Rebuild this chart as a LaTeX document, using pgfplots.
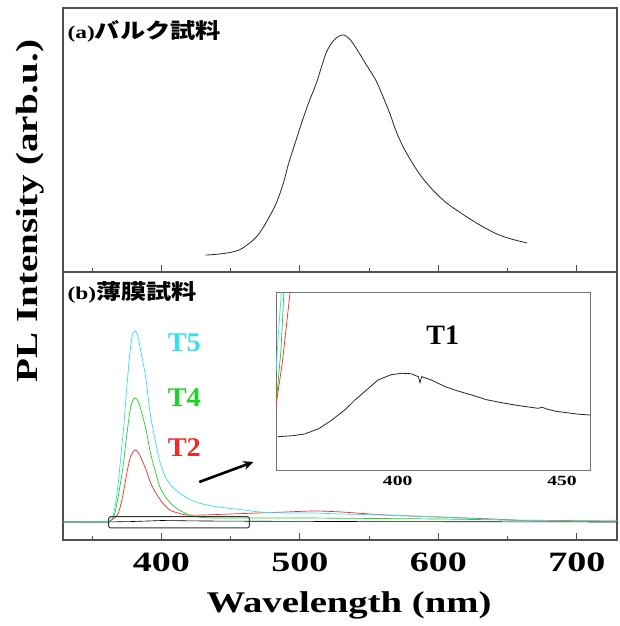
\documentclass[border=0pt]{standalone}
\usepackage{fontspec}
\setmainfont{Liberation Serif}
\newfontfamily\cjk{Noto Sans CJK JP}
\usepackage{pgfplots}
\usetikzlibrary{arrows.meta}
\pgfplotsset{compat=1.18}
\definecolor{cTfive}{RGB}{50,225,235}
\definecolor{cTfour}{RGB}{30,210,40}
\definecolor{cTtwo}{RGB}{245,40,40}
\definecolor{frm}{RGB}{80,80,80}
\newcommand\tl[1]{\scalebox{1.36}[1]{\bfseries\fontsize{28}{28}\selectfont #1}}
\newcommand\itl[1]{\scalebox{1.4}[1]{\bfseries\fontsize{14}{14}\selectfont #1}}
\begin{document}
\begin{tikzpicture}
\useasboundingbox (0pt,0pt) rectangle (619pt,626pt);
% ---------- top panel (a)
\begin{axis}[at={(63pt,354pt)}, anchor=south west, scale only axis,
  width=554pt, height=264pt, xmin=329, xmax=729, ymin=0, ymax=1,
  xtick={400,500,600,700}, minor xtick={350,450,550,650}, xticklabels={},
  ytick=\empty, xtick pos=lower, major tick length=7pt, minor tick length=4pt,
  axis line style={frm, line width=1.3pt}, tick style={frm, line width=1pt}]
\addplot[black!85, line width=0.8pt, smooth, tension=0.5] coordinates {
(432,0.064)(445,0.070)(456,0.083)(465,0.115)(471,0.148)(477,0.200)(483,0.261)
(488,0.335)(492,0.413)(497,0.495)(502,0.576)(507,0.650)(512,0.716)(519,0.830)
(525,0.880)(531,0.898)(536,0.882)(541,0.845)(548,0.785)(555,0.725)(560,0.665)
(565,0.600)(569,0.540)(574,0.480)(581,0.415)(588,0.360)(597,0.305)(606,0.261)
(615,0.228)(624,0.197)(634,0.166)(644,0.140)(654,0.123)(664,0.110)};
\node[anchor=west, inner sep=0pt] at (rel axis cs:0.008,0.913)
  {\scalebox{1.3}[1]{\bfseries\fontsize{18}{18}\selectfont (a)}\scalebox{1.2}[1]{\cjk\bfseries\fontsize{21}{21}\selectfont バルク試料}};
\end{axis}
% ---------- bottom panel (b)
\begin{axis}[at={(63pt,86pt)}, anchor=south west, scale only axis,
  width=554pt, height=268pt, xmin=329, xmax=729, ymin=-18, ymax=250,
  xtick={400,500,600,700}, minor xtick={350,450,550,650},
  xticklabels={\tl{400},\tl{500},\tl{600},\tl{700}},
  xticklabel style={inner sep=0pt, yshift=-13pt},
  ytick=\empty, xtick pos=lower, major tick length=7pt, minor tick length=4pt,
  axis line style={frm, line width=1.3pt}, tick style={frm, line width=1pt}]
\addplot[black, line width=0.6pt] coordinates {
(329,0)(360,0)(380,0.5)(400,1.5)(430,1)(460,0.8)(520,0.5)(729,0)};
\addplot[cTtwo, line width=0.7pt, smooth] coordinates {
(329,0)(360,0)(364,2)(367,5)(369,9)(372,25)(375.5,52)(378,66)(381,72)(384,68)
(389,52)(392,40)(396,29)(401,19)(406,12)(412,9)(418,7)(430,7)(450,8)(470,9)
(490,10)(510,11)(530,10)(562,7)(600,5)(639,3)(670,1)(729,0.5)};
\addplot[cTfour, line width=0.7pt, smooth] coordinates {
(329,0)(358,0)(363,1)(366,7)(368,19)(370,35)(372,52)(375.5,92)(378,116)(381,124)
(384,118)(389,92)(392,70)(396,49)(399,35)(403,25)(408,17)(413,12)(420,7)(427,5)
(440,4)(500,4)(600,3)(650,2)(729,1)};
\addplot[cTfive, line width=0.7pt, smooth] coordinates {
(329,0)(355,0)(362,1)(365,5)(367,19)(369,40)(371,69)(373,98)(374.5,125)(377,165)
(379,186)(381,191)(383,186)(386,165)(389,142)(392,108)(396,79)(399,60)(403,45)
(408,35)(413,29)(420,23)(427,19)(437,16)(447,14)(460,12)(471,10)(490,9)(510,9)
(530,8)(560,7)(600,5)(650,2)(700,1)(729,1)};
\draw[black!80, line width=1pt, rounded corners=2pt] (axis cs:362,-6) rectangle (axis cs:463.5,5.3);
\draw[-{Stealth[length=10pt,width=9pt]}, line width=2.6pt] (axis cs:427.4,40) -- (axis cs:466.4,60);
\node[cTfive] at (axis cs:416.6,179) {\scalebox{1.05}[1]{\bfseries\fontsize{27}{27}\selectfont T5}};
\node[cTfour] at (axis cs:416.6,124) {\scalebox{1.05}[1]{\bfseries\fontsize{27}{27}\selectfont T4}};
\node[cTtwo] at (axis cs:416.6,74) {\scalebox{1.05}[1]{\bfseries\fontsize{27}{27}\selectfont T2}};
\node[anchor=west, inner sep=0pt] at (rel axis cs:0.008,0.925)
  {\scalebox{1.3}[1]{\bfseries\fontsize{18}{18}\selectfont (b)}\scalebox{1.2}[1]{\cjk\bfseries\fontsize{21}{21}\selectfont 薄膜試料}};
\end{axis}
% ---------- inset
\begin{axis}[at={(276pt,155.3pt)}, anchor=south west, scale only axis,
  width=314pt, height=177.7pt, xmin=363, xmax=458.5, ymin=0, ymax=177.7,
  xtick={400,450}, xticklabels={\itl{400},\itl{450}},
  xticklabel style={inner sep=0pt, yshift=-5pt},
  ytick=\empty, major tick length=0pt,
  axis background/.style={fill=white},
  axis line style={black!55, line width=1pt}]
\addplot[cTfive, line width=0.7pt] coordinates {(363,100)(364,150)(364.8,185)};
\addplot[cTfour, line width=0.7pt] coordinates {(363,66)(364.5,120)(365.5,185)};
\addplot[cTtwo, line width=0.7pt] coordinates {(363,65)(365,110)(367,170)(368,200)};
\addplot[black!85, line width=0.8pt] coordinates {
(363.5,34)(368,35)(371.7,36.7)(376,42)(380,50.7)(384,61)(387,70.7)(391,82)(394,90.7)
(398,96)(401.3,97.4)(404,97)(406.3,94)(406.8,88)(407.3,94)(410,91)(414.5,84)(418,80)
(422.5,75.7)(427,71)(432.6,67.4)(437,65)(442.7,62.4)(444,63.5)(445,62)(448,59.5)
(452.8,57.4)(455,56.5)(458.5,55.7)};
\node at (axis cs:413.7,135.7) {\bfseries\fontsize{28}{28}\selectfont T1};
\end{axis}
% ---------- axis titles
\node[rotate=90] at (30pt,415pt) {\scalebox{1.3}[1.02]{\bfseries\fontsize{30}{30}\selectfont PL Intensity (arb.u.)}};
\node at (349pt,21pt) {\scalebox{1.29}[1]{\bfseries\fontsize{30}{30}\selectfont Wavelength (nm)}};
\end{tikzpicture}
\end{document}
